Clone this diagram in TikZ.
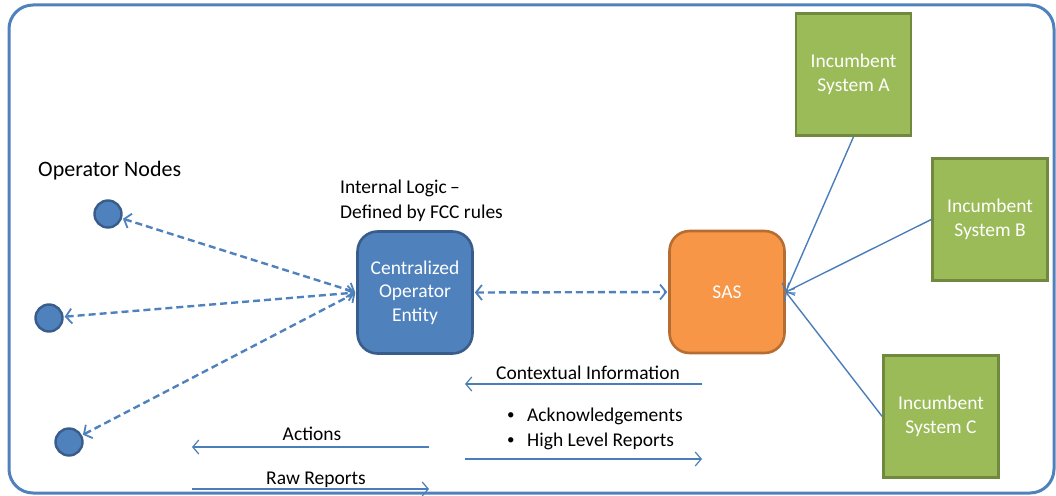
\documentclass[tikz,border=0pt]{standalone}
\usepackage{fontspec}
\setmainfont{Carlito}
\usetikzlibrary{arrows.meta}
\definecolor{blueF}{HTML}{4F81BD}
\definecolor{blueB}{HTML}{385D8A}
\definecolor{orgF}{HTML}{F79646}
\definecolor{orgB}{HTML}{B66D31}
\definecolor{grnF}{HTML}{9BBB59}
\definecolor{grnB}{HTML}{71893F}
\definecolor{arrC}{HTML}{4A7EBB}
\begin{document}
\begin{tikzpicture}[x=1pt,y=-1pt,
  txt/.style={font=\fontsize{19.5}{24}\selectfont, inner sep=0pt},
  rbox/.style={draw, line width=2.6pt, rounded corners=20pt, minimum width=115pt, minimum height=122pt, text=white, align=center, font=\fontsize{19.5}{23.5}\selectfont},
  gbox/.style={draw=grnB, fill=grnF, line width=2.6pt, minimum width=115pt, minimum height=122pt, text=white, align=center, font=\fontsize{19.5}{23.5}\selectfont},
  opnode/.style={circle, draw=blueB, fill=blueF, line width=2.4pt, minimum size=27pt, inner sep=0pt},
  dasharr/.style={draw=blueF, line width=2.4pt, dash pattern=on 7pt off 4pt, {Straight Barb[length=6pt,width=15pt,line width=1.8pt]}-{Straight Barb[length=6pt,width=15pt,line width=1.8pt]}, shorten <=1pt, shorten >=1pt},
  thinarr/.style={draw=arrC, line width=1.4pt, -{Straight Barb[length=6pt,width=14pt,line width=1.2pt]}}
]
\useasboundingbox (0,0) rectangle (1056,495);
\draw[blueF, line width=3pt, rounded corners=24pt] (9,5) rectangle (1054,493);

\node[opnode] (n1) at (108,214) {};
\node[opnode] (n2) at (49,318) {};
\node[opnode] (n3) at (69,442) {};

\node[rbox, draw=blueB, fill=blueF] (coe) at (415,292.5) {Centralized\\Operator\\Entity};
\node[rbox, draw=orgB, fill=orgF] (sas) at (727,292) {SAS};
\node[gbox] (ia) at (853.5,74.5) {Incumbent\\System A};
\node[gbox] (ib) at (990,219.5) {Incumbent\\System B};
\node[gbox] (ic) at (941,416.5) {Incumbent\\System C};

\node[txt, anchor=base west, font=\fontsize{22}{26}\selectfont] (opl) at (38,176) {Operator Nodes};
\node[txt, anchor=base west] (il1) at (340,193) {Internal Logic\,–};
\node[txt, anchor=base west] (il2) at (340,218) {Defined by FCC rules};

\coordinate (cw) at (coe.west);
\draw[dasharr] (n1) -- (cw);
\draw[dasharr] (n2) -- (cw);
\draw[dasharr] (n3) -- (cw);
\draw[dasharr] (coe.east) -- (sas.west);

\draw[thinarr] (ia.south) -- (sas.east);
\draw[thinarr] (ib.west) -- (sas.east);
\draw[thinarr] (ic.west) -- (sas.east);

\coordinate (ci1) at (702,384);
\coordinate (ci2) at (465,384);
\draw[thinarr] (ci1) -- (ci2);
\node[txt, anchor=base] (cil) at (588,379) {Contextual Information};

\node[txt, anchor=base west, font=\fontsize{15}{18}\selectfont] (b1) at (507,419) {•};
\node[txt, anchor=base west] (ack) at (527,421) {Acknowledgements};
\node[txt, anchor=base west, font=\fontsize{15}{18}\selectfont] (b2) at (507,444) {•};
\node[txt, anchor=base west] (hlr) at (527,446) {High Level Reports};
\coordinate (hl1) at (465,459);
\coordinate (hl2) at (702,459);
\draw[thinarr] (hl1) -- (hl2);

\coordinate (ac1) at (429,447);
\coordinate (ac2) at (192,447);
\draw[thinarr] (ac1) -- (ac2);
\node[txt, anchor=base] (acl) at (312,440) {Actions};

\coordinate (rr1) at (192,489);
\coordinate (rr2) at (429,489);
\draw[thinarr] (rr1) -- (rr2);
\node[txt, anchor=base] (rrl) at (316,484) {Raw Reports};
\end{tikzpicture}
\end{document}
